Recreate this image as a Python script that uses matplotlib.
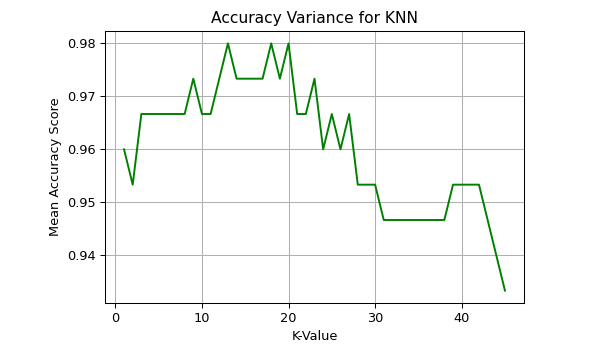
import numpy as np
import matplotlib
matplotlib.use('Agg')
import matplotlib.pyplot as plt

k_values = list(range(1, 46))
# correct predictions out of 150 for each k
correct = [144, 143, 145, 145, 145, 145, 145, 145, 146, 145,
           145, 146, 147, 146, 146, 146, 146, 147, 146, 147,
           145, 145, 146, 144, 145, 144, 145, 143, 143, 143,
           142, 142, 142, 142, 142, 142, 142, 142, 143, 143,
           143, 143, 142, 141, 140]
scores = np.array(correct) / 150.0

dpi = 93
fig = plt.figure(figsize=(592 / dpi, 353 / dpi), dpi=dpi)
ax = fig.add_axes([105 / 592, 1 - 303 / 353, (524 - 105) / 592, (303 - 31) / 353])
ax.plot(k_values, scores, color='g')
ax.set_title('Accuracy Variance for KNN')
ax.set_xlabel('K-Value')
ax.set_ylabel('Mean Accuracy Score')
ax.set_yticks([0.94, 0.95, 0.96, 0.97, 0.98])
ax.grid(True)

fig.savefig('out.png', dpi=dpi)
